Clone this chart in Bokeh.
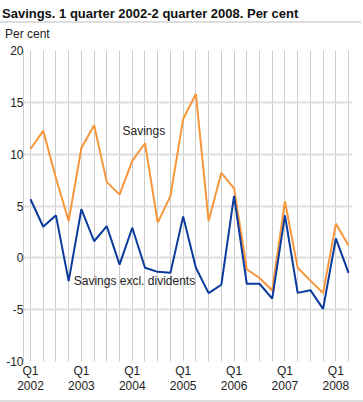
from bokeh.plotting import figure
from bokeh.models import Div, FixedTicker, ColumnDataSource
from bokeh.layouts import column
from bokeh.core.properties import value
from bokeh.embed import file_html
from bokeh.resources import INLINE

# Quarters 2002Q1 .. 2008Q2
quarters = [f"{y}Q{q}" for y in range(2002, 2009) for q in range(1, 5)][:26]
savings = [10.5, 12.25, 7.7, 3.55, 10.6, 12.8, 7.3, 6.1, 9.35, 11.05, 3.4, 5.95,
           13.4, 15.8, 3.55, 8.2, 6.7, -1.1, -1.95, -3.15, 5.45, -0.95, -2.2, -3.4,
           3.3, 1.2]
savings_excl = [5.65, 3.0, 4.1, -2.25, 4.7, 1.6, 3.05, -0.65, 2.9, -0.95, -1.35, -1.45,
                4.0, -0.95, -3.4, -2.6, 5.97, -2.5, -2.5, -3.93, 4.1, -3.38, -3.12, -4.92,
                1.87, -1.45]
y_ticks = [-10, -5, 0, 5, 10, 15, 20]
y_tick_labels = ["-10", "-5", "0", "5", "10", "15", "20"]
x_tick_idx = [0, 4, 8, 12, 16, 20, 24]
x_tick_labels = ["Q1\n2002", "Q1\n2003", "Q1\n2004", "Q1\n2005", "Q1\n2006", "Q1\n2007", "Q1\n2008"]
series_names = ["Savings", "Savings excl. dividents"]
title_text = "Savings. 1 quarter 2002-2 quarter 2008. Per cent"
unit_text = "Per cent"

FONT = "'Liberation Sans', Arial, sans-serif"
ORANGE = "#F7963A"
BLUE = "#0A3A9C"
W = 363

idx = list(range(len(quarters)))
src = ColumnDataSource(dict(x=idx, s=savings, e=savings_excl))

head = Div(
    text=(f'<div style="font-family:{FONT};font-weight:bold;font-size:13px;line-height:15px;color:#111;'
          f'margin:0;padding:6px 0 0 2px;border-bottom:2px solid #dddddd;width:{W - 2}px">{title_text}</div>'
          f'<div style="font-family:{FONT};font-size:12px;line-height:14px;color:#222;'
          f'margin:4px 0 0 0;padding-left:5px">{unit_text}</div>'),
    width=W, height=42, margin=(0, 0, 0, 0))

p = figure(width=W, height=358, output_backend="svg", toolbar_location=None,
           x_range=(-0.55, 25.31), y_range=(-10, 20),
           min_border_left=23, min_border_right=11, min_border_top=8, min_border_bottom=39)
p.outline_line_color = None
p.background_fill_color = "white"

p.line("x", "s", source=src, line_color=ORANGE, line_width=2)
p.line("x", "e", source=src, line_color=BLUE, line_width=2)

p.text(x=[7.23], y=[12.27], text=[series_names[0]], text_font=value("Liberation Sans"),
       text_font_size="12px", text_color="#222222", text_baseline="middle", text_align="left")
p.text(x=[3.40], y=[-2.26], text=[series_names[1]], text_font=value("Liberation Sans"),
       text_font_size="12px", text_color="#222222", text_baseline="middle", text_align="left")

# axes
p.yaxis.ticker = FixedTicker(ticks=y_ticks)
p.yaxis.major_label_overrides = {t: lab for t, lab in zip(y_ticks, y_tick_labels)}
p.yaxis.major_label_text_font = "Liberation Sans"
p.yaxis.major_label_text_font_size = "12px"
p.yaxis.major_label_text_color = "#222222"
p.yaxis.major_tick_line_color = None
p.yaxis.major_tick_in = 0
p.yaxis.major_tick_out = 0
p.yaxis.minor_tick_line_color = None
p.yaxis.minor_tick_in = 0
p.yaxis.minor_tick_out = 0
p.yaxis.axis_line_color = "#cccccc"
p.yaxis.major_label_standoff = 0

p.xaxis.ticker = FixedTicker(ticks=x_tick_idx)
p.xaxis.major_label_overrides = {i: lab for i, lab in zip(x_tick_idx, x_tick_labels)}
p.xaxis.major_label_text_font = "Liberation Sans"
p.xaxis.major_label_text_font_size = "12px"
p.xaxis.major_label_text_color = "#222222"
p.xaxis.major_label_text_line_height = 1.1
p.xaxis.major_tick_line_color = None
p.xaxis.major_tick_in = 0
p.xaxis.major_tick_out = 0
p.xaxis.minor_tick_line_color = None
p.xaxis.minor_tick_in = 0
p.xaxis.minor_tick_out = 0
p.xaxis.axis_line_color = None
p.xaxis.major_label_standoff = 2

p.xgrid.ticker = FixedTicker(ticks=idx)
p.xgrid.grid_line_color = "#cccccc"
p.xgrid.grid_line_width = 1
p.ygrid.ticker = FixedTicker(ticks=y_ticks)
p.ygrid.grid_line_color = "#dddddd"
p.ygrid.grid_line_width = 2
p.ygrid.level = "underlay"

foot = Div(text="", width=W, height=2, margin=(0, 0, 0, 0),
           styles={"background-color": "#dddddd"})

layout = column(head, p, foot, spacing=0)
open("out.html", "w").write(file_html(layout, INLINE))
